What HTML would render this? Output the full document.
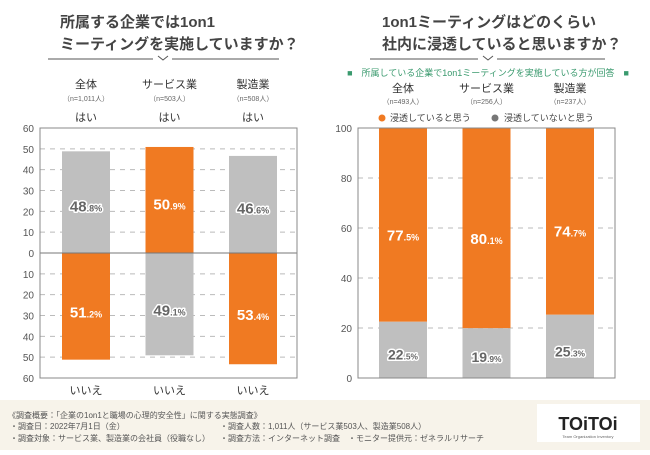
<!DOCTYPE html>
<html><head><meta charset="utf-8"><style>
body{margin:0;width:650px;height:450px;overflow:hidden;background:#fff;font-family:"Liberation Sans","Noto Sans CJK JP",sans-serif;}
svg text{font-family:"Liberation Sans","Noto Sans CJK JP",sans-serif;}
</style></head><body>
<svg id="c" width="650" height="450" viewBox="0 0 650 450" xmlns="http://www.w3.org/2000/svg">
<rect x="0" y="400" width="650" height="50" fill="#f7f3ea"/>
<g font-size="15" font-weight="bold" fill="#444">
<text x="60" y="27">所属する企業では1on1</text>
<text x="60" y="49">ミーティングを実施していますか？</text>
</g>
<g font-size="15" font-weight="bold" fill="#444">
<text x="382" y="27">1on1ミーティングはどのくらい</text>
<text x="382" y="49">社内に浸透していると思いますか？</text>
</g>
<g stroke="#555" stroke-width="1" fill="none">
<path d="M48 59H153M172 59H279M158 56l5 4 5-4"/>
<path d="M370 59H478M497 59H605M483 56l5 4 5-4"/>
</g>
<text x="488" y="76" text-anchor="middle" font-size="9" fill="#3a9a6e">■　所属している企業で1on1ミーティングを実施している方が回答　■</text>
<g font-size="7" fill="#888">
<text x="8" y="418" font-size="8" fill="#555">《調査概要：「企業の1on1と職場の心理的安全性」に関する実態調査》</text>
<text x="10" y="429" font-size="8" fill="#555">・調査日：2022年7月1日（金）</text>
<text x="10" y="441" font-size="8" fill="#555">・調査対象：サービス業、製造業の会社員（役職なし）</text>
<text x="220" y="429" font-size="8" fill="#555">・調査人数：1,011人（サービス業503人、製造業508人）</text>
<text x="220" y="441" font-size="8" fill="#555">・調査方法：インターネット調査　・モニター提供元：ゼネラルリサーチ</text>
</g>
<g>
<rect x="537" y="404" width="103" height="38" fill="#fff"/>
<text x="588" y="430" text-anchor="middle" font-size="18" font-weight="bold" fill="#222">TOiTOi</text>
<text x="588" y="438" text-anchor="middle" font-size="4" fill="#666">Team Organization Inventory</text>
</g>
</svg>
<script>
const leftCats=["全体","サービス業","製造業"];
const leftN=["（n=1,011人）","（n=503人）","（n=508人）"];
const yesVals=[48.8,50.9,46.6];
const noVals=[51.2,49.1,53.4];
const leftTicks=[60,50,40,30,20,10,0,10,20,30,40,50,60];
const rightCats=["全体","サービス業","製造業"];
const rightN=["（n=493人）","（n=256人）","（n=237人）"];
const pervVals=[77.5,80.1,74.7];
const notVals=[22.5,19.9,25.3];
const rightTicks=[0,20,40,60,80,100];
const ORANGE="#f07a22",GRAY="#bfbfbf";
const svg=document.getElementById('c');
const NS="http://www.w3.org/2000/svg";
function mk(t,a,parent){const e=document.createElementNS(NS,t);for(const k in a)e.setAttribute(k,a[k]);(parent||svg).appendChild(e);return e;}
const L={x0:40,x1:297,zero:253,pxu:125/60};
const ly=v=>L.zero-v*L.pxu;
const lBarX=i=>62+i*83.5, bw=48;
for(let i=0;i<=12;i++){const v=60-i*10;const y=ly(v);
 if(v!==0&&i!==0&&i!==12){const g=mk('line',{x1:L.x0,x2:L.x1,y1:y,y2:y,stroke:'#bbb','stroke-dasharray':'5 5'});
 
 }
 const t=mk('text',{x:34,y:y+4,'text-anchor':'end','font-size':10,fill:'#555'});t.textContent=leftTicks[i];
 
 }
function pct(x,y,v,onOrange,size){const s=v.toFixed(1).split('.');
 const attrs=onOrange?{fill:'#fff'}:{fill:'#666',stroke:'#fff','stroke-width':3,'paint-order':'stroke','stroke-linejoin':'round'};
 const t=mk('text',Object.assign({x:x,y:y,'text-anchor':'middle','font-size':size,'font-weight':'bold'},attrs));
 const a=mk('tspan',{},t);a.textContent=s[0];const b=mk('tspan',{'font-size':size*0.6},t);b.textContent='.'+s[1]+'%';
 
 return t;}
leftCats.forEach((c,i)=>{const x=lBarX(i),cx=x+bw/2;
 const yc=i===1?ORANGE:GRAY, nc=i===1?GRAY:ORANGE;
 const r1=mk('rect',{x:x,y:ly(yesVals[i]),width:bw,height:L.zero-ly(yesVals[i]),fill:yc});
 
 
 const r2=mk('rect',{x:x,y:L.zero,width:bw,height:ly(-noVals[i])-L.zero,fill:nc});
 
 
 pct(cx,ly(yesVals[i]*0.45)+4,yesVals[i],i===1,15);
 pct(cx,ly(-noVals[i]*0.55)+6,noVals[i],i!==1,15);
 let t=mk('text',{x:cx,y:88,'text-anchor':'middle','font-size':11,fill:'#333'});t.textContent=c;
 
 t=mk('text',{x:cx,y:101,'text-anchor':'middle','font-size':7,fill:'#666'});t.textContent=leftN[i];
 
 t=mk('text',{x:cx,y:121,'text-anchor':'middle','font-size':11,fill:'#333'});t.textContent='はい';
 
 t=mk('text',{x:cx,y:394,'text-anchor':'middle','font-size':11,fill:'#333'});t.textContent='いいえ';
 
});
let zl=mk('line',{x1:L.x0,x2:L.x1,y1:L.zero,y2:L.zero,stroke:'#777','stroke-width':1});

let fr=mk('rect',{x:L.x0,y:ly(60),width:L.x1-L.x0,height:ly(-60)-ly(60),fill:'none',stroke:'#888','stroke-width':1});

const R={x0:358,x1:615,base:378,pxu:2.5};
const ry=v=>R.base-v*R.pxu;
const rBarX=i=>379+i*83.5;
rightTicks.forEach(v=>{const y=ry(v);
 if(v>0&&v<100){const g=mk('line',{x1:R.x0,x2:R.x1,y1:y,y2:y,stroke:'#bbb','stroke-dasharray':'5 5'});
 }
 const t=mk('text',{x:352,y:y+4,'text-anchor':'end','font-size':10,fill:'#555'});t.textContent=v;
 });
rightCats.forEach((c,i)=>{const x=rBarX(i),cx=x+bw/2;
 const r1=mk('rect',{x:x,y:ry(100),width:bw,height:pervVals[i]*R.pxu,fill:ORANGE});
 
 const r2=mk('rect',{x:x,y:ry(notVals[i]),width:bw,height:notVals[i]*R.pxu,fill:GRAY});
 
 pct(cx,ry(notVals[i]+pervVals[i]*0.45)+6,pervVals[i],true,15);
 pct(cx,ry(notVals[i]*0.42)+5,notVals[i],false,14);
 let t=mk('text',{x:cx,y:92,'text-anchor':'middle','font-size':11,fill:'#333'});t.textContent=c;
 
 t=mk('text',{x:cx,y:104,'text-anchor':'middle','font-size':7,fill:'#666'});t.textContent=rightN[i];
 
});
let lg=mk('g',{});
mk('circle',{cx:382,cy:118,r:3.5,fill:ORANGE},lg);
let lt=mk('text',{x:390,y:121,'font-size':9,fill:'#444'},lg);lt.textContent='浸透していると思う';
mk('circle',{cx:495,cy:118,r:3.5,fill:'#777'},lg);
lt=mk('text',{x:504,y:121,'font-size':9,fill:'#444'},lg);lt.textContent='浸透していないと思う';
fr=mk('rect',{x:R.x0,y:ry(100),width:R.x1-R.x0,height:100*R.pxu,fill:'none',stroke:'#888','stroke-width':1});

</script>
</body></html>
